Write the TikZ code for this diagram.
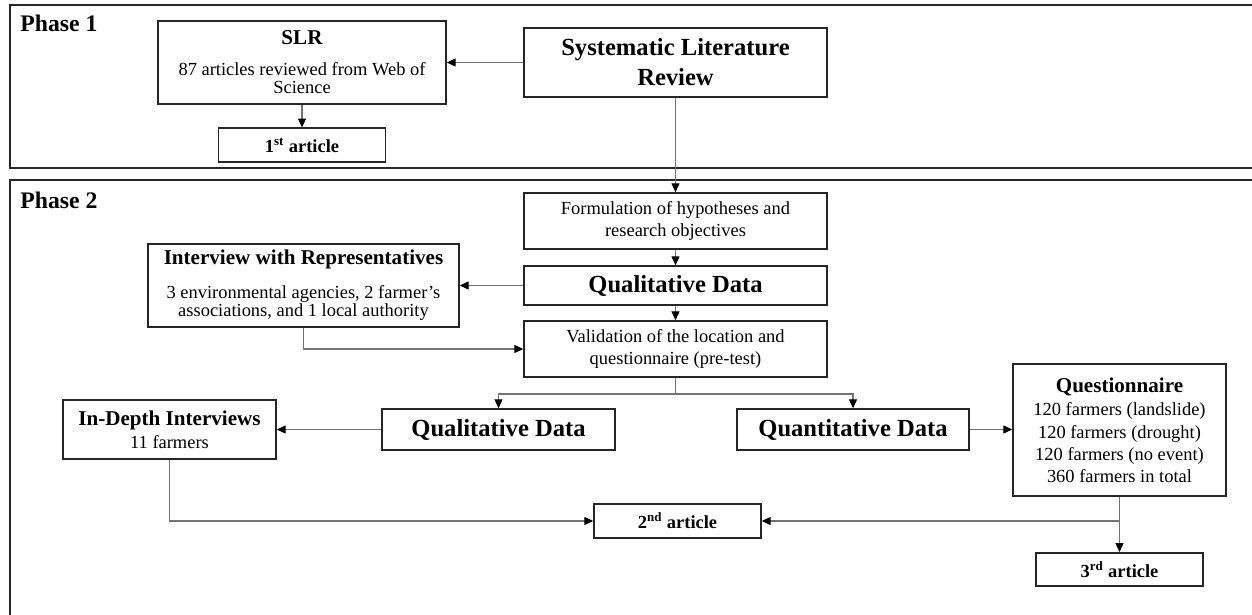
\documentclass[tikz,border=0pt]{standalone}
\usepackage{fontspec}
\setmainfont{Liberation Serif}
\usetikzlibrary{arrows.meta, positioning, calc}

\begin{document}
\begin{tikzpicture}[
  x=0.02cm, y=-0.02cm,
  phase/.style={draw=black!85, line width=1.3pt},
  phaselabel/.style={anchor=base west, inner sep=0pt, font=\fontsize{13.5}{15}\selectfont\bfseries},
  stage/.style={draw=black!85, line width=0.9pt, fill=white, align=center, inner sep=2pt, font=\fontsize{10.5}{12.8}\selectfont},
  bigstage/.style={stage, font=\fontsize{14}{17}\selectfont\bfseries},
  paper/.style={stage, minimum width=3.34cm, minimum height=0.67cm, font=\fontsize{10.5}{12}\selectfont\bfseries},
  link/.style={draw=black!55, line width=0.6pt},
  arrow/.style={link, -{Triangle[length=5pt, width=4.5pt, color=black]}}
]
  \useasboundingbox (0,0) rectangle (1252,615);

  % phase frames
  \draw[phase] (10,5) rectangle (1270,168);
  \draw[phase] (10,180) rectangle (1270,640);
  \node[phaselabel] (p1) at (20,31.5) {Phase 1};
  \node[phaselabel] (p2) at (20,208.5) {Phase 2};

  % phase 1
  \node[stage, minimum width=5.76cm, minimum height=1.66cm, font=\fontsize{10.5}{10.5}\selectfont] (slr) at (302,62.5)
    {{\fontsize{12}{14}\selectfont\bfseries SLR}\\[7pt]87 articles reviewed from Web of\\Science};
  \node[paper] (art1) at (302,145) {1\textsuperscript{st} article};
  \node[bigstage, minimum width=6.06cm, minimum height=1.38cm] (review) at (675.5,62.5) {Systematic Literature\\Review};

  % phase 2
  \node[stage, minimum width=6.06cm, minimum height=1.12cm] (hyp) at (675.5,221) {Formulation of hypotheses and\\research objectives};
  \node[bigstage, minimum width=6.06cm, minimum height=0.78cm] (qual1) at (675.5,285.5) {Qualitative Data};
  \node[stage, minimum width=6.06cm, minimum height=1.12cm] (valid) at (675.5,349) {Validation of the location and\\questionnaire (pre-test)};
  \node[stage, minimum width=6.22cm, minimum height=1.66cm, font=\fontsize{10.5}{10.5}\selectfont] (repr) at (303.5,285.5)
    {{\fontsize{12}{14}\selectfont\bfseries Interview with Representatives}\\[8.5pt]3 environmental agencies, 2 farmer’s\\associations, and 1 local authority};

  \node[bigstage, minimum width=4.66cm, minimum height=0.82cm] (qual2) at (498.5,429.5) {Qualitative Data};
  \node[bigstage, minimum width=4.64cm, minimum height=0.82cm] (quant) at (853,429.5) {Quantitative Data};
  \node[stage, minimum width=4.26cm, minimum height=1.18cm, font=\fontsize{10.5}{13.2}\selectfont] (indepth) at (169.5,429.5)
    {{\fontsize{12}{14}\selectfont\bfseries In-Depth Interviews}\\11 farmers};
  \node[stage, minimum width=4.26cm, minimum height=2.64cm, font=\fontsize{10.5}{12.6}\selectfont] (quest) at (1119.5,430)
    {{\fontsize{12}{14}\selectfont\bfseries Questionnaire}\\[1pt]120 farmers (landslide)\\120 farmers (drought)\\120 farmers (no event)\\360 farmers in total};
  \node[paper] (art2) at (677.5,521) {2\textsuperscript{nd} article};
  \node[paper] (art3) at (1119.5,569.5) {3\textsuperscript{rd} article};

  \coordinate (split) at (675.5,394);
  \coordinate (join) at (1119.5,521);

  % connectors
  \draw[arrow] (review) -- (slr);
  \draw[arrow] (slr) -- (art1);
  \draw[arrow] (review) -- (hyp);
  \draw[arrow] (hyp) -- (qual1);
  \draw[arrow] (qual1) -- (valid);
  \draw[arrow] (qual1) -- (repr);
  \draw[arrow] (repr.south) |- (valid.west);
  \draw[link] (valid) -- (split);
  \draw[arrow] (split) -| (qual2);
  \draw[arrow] (split) -| (quant);
  \draw[arrow] (qual2) -- (indepth);
  \draw[arrow] (quant.east) -- (quant.east -| quest.west);
  \draw[arrow] (indepth.south) |- (art2.west);
  \draw[arrow] (quest) -- (art3);
  \draw[arrow] (join) -- (art2);
\end{tikzpicture}
\end{document}
